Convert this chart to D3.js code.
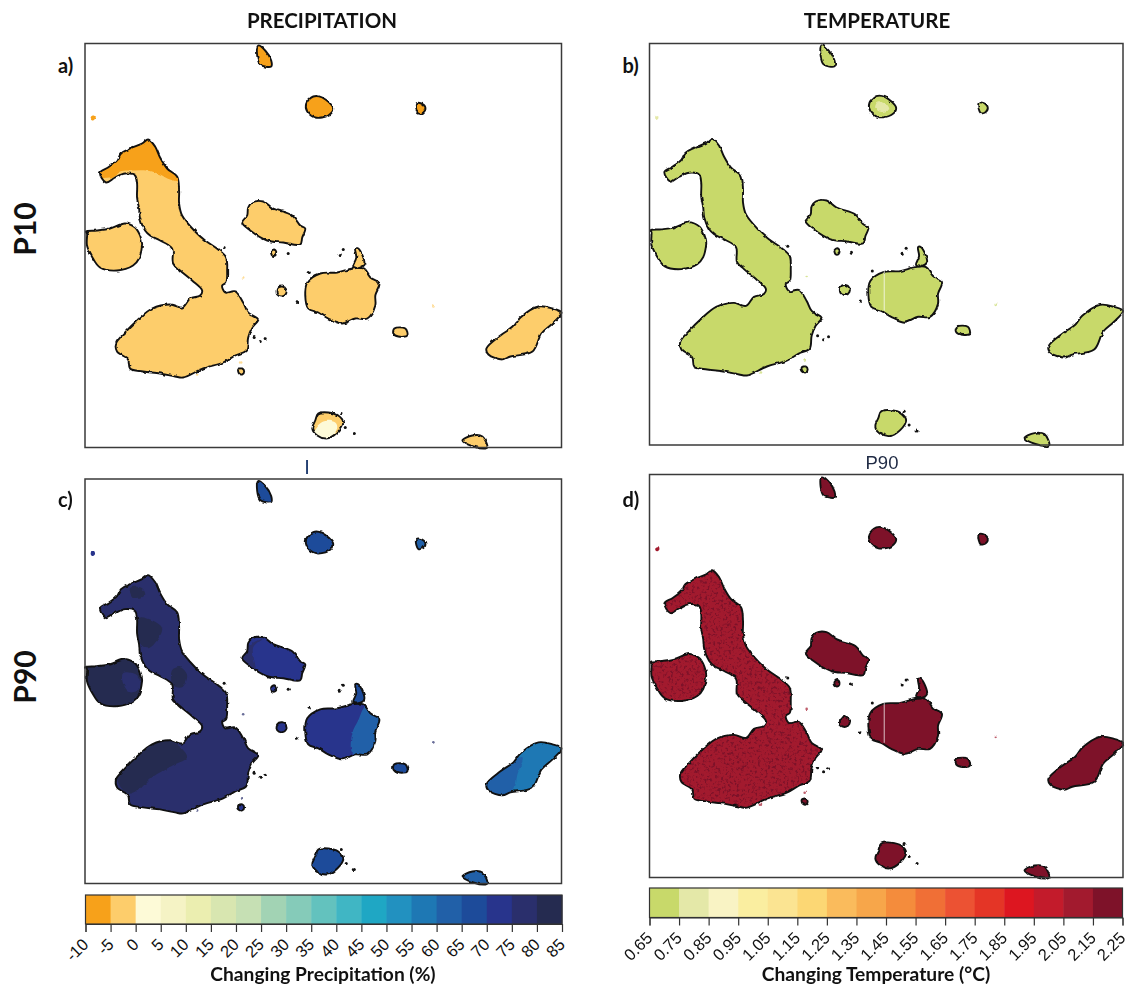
<!DOCTYPE html>
<html>
<head>
<meta charset="utf-8">
<script src="https://cdn.jsdelivr.net/npm/d3@7"></script>
<style>
  html, body { margin: 0; background: #fff; }
  svg { display: block; }
  text { fill: #111; }
</style>
</head>
<body>
<div id="chart"></div>
<script>
// island outlines, in map units (0-476 across, 0-404 down)
var islandNames = ["Isabela", "Fernandina", "Santiago", "Darwin", "Pinta", "Genovesa", "Wolf", "SantaCruz", "Baltra",
    "Pinzon", "Rabida", "Tortuga", "Floreana", "SantaFe", "SanCristobal", "Espanola"];

var isabela = [[63,96],[70,103],[75,114],[82,125],[92,133],[94,147],[94,160],[97,172],[110,188],[120,197],[133,206],
    [141,214],[142,227],[141,239],[137,242],[140,249],[150,248],[158,259],[163,269],[173,276],[167,284],[163,294],[161,307],
    [150,312],[138,319],[118,325],[98,334],[90,333],[75,330],[58,328],[45,325],[43,316],[32,308],[31,300],[40,289],[52,277],
    [67,265],[85,261],[97,264],[105,255],[115,252],[117,247],[107,237],[95,227],[88,220],[87,205],[75,197],[65,192],[60,187],
    [55,175],[54,165],[52,154],[52,140],[50,132],[40,130],[30,134],[21,139],[15,129],[23,124],[32,117],[36,110],[45,105],[57,100]];
var fernandina = [[1,188],[12,187],[25,185],[40,180],[50,184],[55,192],[57,200],[57,202],[54,215],[48,222],[32,227],[15,224],[8,215],[2,202],[2,190]];
var santiago = [[167,159],[178,158],[188,165],[207,172],[215,182],[220,185],[217,194],[215,201],[198,199],[182,197],[165,187],[157,179],[162,172],[163,164]];
var darwin = [[173,2],[180,7],[186,17],[186,23],[175,21],[172,12]];
var pinta = [[228,53],[237,54],[248,65],[243,72],[230,74],[222,68],[221,60]];
var genovesa = [[331,60],[336,60],[340,64],[338,69],[333,70],[331,66]];
var wolf = [[6,73],[9,72],[10,75],[8,77],[6,76]];
var santaCruz = [[222,239],[235,230],[252,229],[267,225],[278,225],[285,234],[294,240],[290,252],[290,262],[282,275],[270,275],[257,280],[243,275],[233,269],[223,265],[220,252]];
var baltra = [[270,205],[273,205],[279,220],[273,224],[268,223],[271,214]];
var pinzon = [[192,245],[197,243],[201,246],[201,250],[197,253],[192,251]];
var rabida = [[186,208],[189,206],[191,209],[190,212],[187,212]];
var tortuga = [[153,326],[157,325],[159,328],[157,331],[154,330]];
var floreana = [[233,370],[243,369],[253,372],[258,379],[252,389],[241,395],[232,392],[227,385],[230,377]];
var santaFe = [[309,285],[320,285],[322,292],[313,293],[308,290]];
var sanCristobal = [[401,305],[415,292],[428,283],[435,274],[453,263],[467,265],[476,269],[467,280],[456,290],[447,308],[425,313],[417,316],[403,311]];
var espanola = [[377,397],[387,392],[397,393],[402,404],[400,405],[388,403]];

var islandOutlines = [isabela, fernandina, santiago, darwin, pinta, genovesa, wolf, santaCruz, baltra,
    pinzon, rabida, tortuga, floreana, santaFe, sanCristobal, espanola];

// one value per island, same order as islandNames
var precipP10 = [-3, -3, -3, -7, -7, -7, -7, -3, -3, -3, -3, -3, -3, -3, -3, -3];
var tempP10 = [0.7, 0.7, 0.7, 0.7, 0.7, 0.7, 0.8, 0.7, 0.7, 0.7, 0.7, 0.7, 0.7, 0.7, 0.7, 0.7];
var precipP90 = [77, 82, 72, 67, 67, 62, 72, 72, 67, 72, 72, 72, 67, 67, 57, 62];
var tempP90 = [2.1, 2.1, 2.2, 2.2, 2.2, 2.2, 2.1, 2.2, 2.2, 2.2, 2.2, 2.2, 2.2, 2.2, 2.2, 2.2];

// patches inside an island: island, value, outline
var precipP10Zones = [
    ["Isabela", -7, [[0,90],[100,90],[100,137],[85,136],[75,131],[62,127],[50,127],[35,128],[30,133],[15,135],[0,140]]],
    ["Floreana", 2, [[238,378],[250,379],[252,384],[246,393],[236,394],[229,388]]]
];
var tempP10Zones = [
    ["Pinta", 0.8, [[229,59],[236,59],[241,66],[233,69],[227,65]]]
];
var precipP90Zones = [
    ["Isabela", 82, [[53,139],[67,141],[77,149],[72,161],[63,169],[55,164]]],
    ["Isabela", 82, [[87,191],[95,188],[102,196],[97,208],[88,206]]],
    ["Isabela", 82, [[45,109],[57,109],[60,116],[48,118]]],
    ["Isabela", 82, [[32,298],[45,281],[67,263],[88,263],[102,278],[88,286],[67,298],[53,311],[42,314]]],
    ["Fernandina", 77, [[38,194],[52,196],[55,209],[45,213],[38,204]]],
    ["Santiago", 77, [[158,171],[178,159],[168,168],[170,191],[160,183]]],
    ["SantaCruz", 62, [[280,228],[294,238],[292,261],[282,274],[267,273],[267,254],[273,241]]],
    ["SanCristobal", 62, [[395,290],[430,280],[437,278],[432,295],[427,312],[395,325]]]
];
var tempP90Zones = [];

// rocks too small to have a colour of their own
var darkRocks = [[139,204],[203,210],[254,211],[258,206],[224,229],[212,259],[169,294],[175,298],[180,295],[256,370],[261,384],[269,390]];
var paleRocks = [[156,319],[158,235],[112,331],[348,263]];

// white seam running through Santa Cruz in the temperature maps
var seam = [[236,229],[236,269]];

var precipTicks = [-10, -5, 0, 5, 10, 15, 20, 25, 30, 35, 40, 45, 50, 55, 60, 65, 70, 75, 80, 85];
var precipColors = ["#f7a11a", "#fdcd6b", "#fdfad7", "#f5f3c5", "#ebeeb0", "#d8e6b0", "#c6e0b4", "#a2d3b4", "#85cbb9", "#63c2be",
    "#40b6c4", "#1fa7c4", "#2291c0", "#1e78b4", "#2160a8", "#1d4b9a", "#28348c", "#2a2f6c", "#252b50"];
var tempTicks = [0.65, 0.75, 0.85, 0.95, 1.05, 1.15, 1.25, 1.35, 1.45, 1.55, 1.65, 1.75, 1.85, 1.95, 2.05, 2.15, 2.25];
var tempColors = ["#c8d96a", "#e4e8a8", "#f9f3c4", "#faeea0", "#fbe492", "#fcd774", "#fabb5c", "#f7a64a", "#f48c3c", "#f06f36",
    "#ec5233", "#e43526", "#dd1620", "#c31b2b", "#a21a2e", "#7e1229"];

var width = 1133,
    height = 988;

var precipColor = d3.scaleThreshold().domain(precipTicks.slice(1, -1)).range(precipColors);
var tempColor = d3.scaleThreshold().domain(tempTicks.slice(1, -1)).range(tempColors);

var svg = d3.select("#chart")
    .append("svg")
    .attr("width", width)
    .attr("height", height);

var defs = svg.append("defs");

// raster-looking coastline
var rough = defs.append("filter").attr("id", "rough")
    .attr("color-interpolation-filters", "sRGB")
    .attr("x", "-5%").attr("y", "-5%").attr("width", "110%").attr("height", "110%");
rough.append("feTurbulence").attr("type", "fractalNoise").attr("baseFrequency", 0.16)
    .attr("numOctaves", 2).attr("seed", 4).attr("result", "n");
rough.append("feDisplacementMap").attr("in", "SourceGraphic").attr("in2", "n")
    .attr("scale", 3).attr("xChannelSelector", "R").attr("yChannelSelector", "G").attr("result", "d");
rough.append("feGaussianBlur").attr("in", "d").attr("stdDeviation", 0.45);

// mottled grid cells of the P90 temperature map
var speckle = defs.append("filter").attr("id", "speckle")
    .attr("color-interpolation-filters", "sRGB")
    .attr("x", "0").attr("y", "0").attr("width", "100%").attr("height", "100%");
speckle.append("feTurbulence").attr("type", "fractalNoise").attr("baseFrequency", 0.38)
    .attr("numOctaves", 2).attr("seed", 9);
speckle.append("feColorMatrix").attr("values", "0 0 0 0 0.49  0 0 0 0 0.07  0 0 0 0 0.16  0 0 0 5 -2.6").attr("result", "s");
speckle.append("feComposite").attr("in", "s").attr("in2", "SourceAlpha").attr("operator", "in").attr("result", "c");
var merge = speckle.append("feMerge");
merge.append("feMergeNode").attr("in", "SourceGraphic");
merge.append("feMergeNode").attr("in", "c");

var panels = [
    {id: "a", left: 85, right: 561.5, top: 43.5, bottom: 447.5, values: precipP10, zones: precipP10Zones, color: precipColor, labelY: 73},
    {id: "b", left: 649.5, right: 1123, top: 43.5, bottom: 445, values: tempP10, zones: tempP10Zones, color: tempColor, labelY: 73, seam: true},
    {id: "c", left: 85, right: 561.5, top: 479, bottom: 883.5, values: precipP90, zones: precipP90Zones, color: precipColor, labelY: 507},
    {id: "d", left: 649.5, right: 1123, top: 474.5, bottom: 877.5, values: tempP90, zones: tempP90Zones, color: tempColor, labelY: 507, seam: true,
        speckled: ["Isabela", "Fernandina"]}
];

panels.forEach(drawPanel);

function drawPanel(p) {
    var x = d3.scaleLinear().domain([0, 476]).range([p.left, p.right]);
    var y = d3.scaleLinear().domain([0, 404]).range([p.top, p.bottom]);
    var line = d3.line()
        .x(function(d) { return x(d[0]); })
        .y(function(d) { return y(d[1]); })
        .curve(d3.curveCatmullRomClosed.alpha(0.5));

    svg.append("rect")
        .attr("x", p.left).attr("y", p.top)
        .attr("width", p.right - p.left).attr("height", p.bottom - p.top)
        .attr("fill", "#fff");

    var g = svg.append("g").attr("filter", "url(#rough)");

    islandNames.forEach(function(name, i) {
        var clipId = "clip-" + p.id + "-" + name;
        defs.append("clipPath").attr("id", clipId)
            .append("path").attr("d", line(islandOutlines[i]));

        var isl = g.append("g");
        var fill = isl.append("path")
            .attr("d", line(islandOutlines[i]))
            .attr("fill", p.color(p.values[i]));
        if (p.speckled && p.speckled.indexOf(name) >= 0) fill.attr("filter", "url(#speckle)");

        p.zones.filter(function(z) { return z[0] == name; }).forEach(function(z) {
            isl.append("path")
                .attr("d", line(z[2]))
                .attr("clip-path", "url(#" + clipId + ")")
                .attr("fill", p.color(z[1]));
        });

        if (name != "Wolf") {
            isl.append("path")
                .attr("d", line(islandOutlines[i]))
                .attr("fill", "none")
                .attr("stroke", "#111")
                .attr("stroke-width", 1.9)
                .attr("stroke-linejoin", "round");
        }
    });

    g.selectAll(".dark").data(darkRocks).enter().append("circle")
        .attr("class", "dark")
        .attr("cx", function(d) { return x(d[0]); })
        .attr("cy", function(d) { return y(d[1]); })
        .attr("r", 1.5).attr("fill", "#111");

    g.selectAll(".pale").data(paleRocks).enter().append("circle")
        .attr("class", "pale")
        .attr("cx", function(d) { return x(d[0]); })
        .attr("cy", function(d) { return y(d[1]); })
        .attr("r", 1.3).attr("fill", p.color(p.values[0])).attr("opacity", 0.7);

    if (p.seam) {
        svg.append("line")
            .attr("x1", x(seam[0][0])).attr("y1", y(seam[0][1]))
            .attr("x2", x(seam[1][0])).attr("y2", y(seam[1][1]))
            .attr("stroke", "#fff").attr("stroke-width", 1.2).attr("opacity", 0.6);
    }

    svg.append("rect")
        .attr("x", p.left).attr("y", p.top)
        .attr("width", p.right - p.left).attr("height", p.bottom - p.top)
        .attr("fill", "none").attr("stroke", "#3a3a3a").attr("stroke-width", 1.5);

    svg.append("text")
        .attr("x", p.left - 27).attr("y", p.labelY)
        .attr("font-family", "Lato").attr("font-weight", 700).attr("font-size", 20)
        .text(p.id + ")");
}

drawBar(85.5, 562, 895, 924, precipTicks, precipColor, String, "Changing Precipitation (%)", 323);
drawBar(649.5, 1122.5, 888, 917.5, tempTicks, tempColor, d3.format(".2f"), "Changing Temperature (\u00b0C)", 876);

function drawBar(x0, x1, top, bottom, ticks, color, fmt, title, titleX) {
    var x = d3.scaleLinear().domain([ticks[0], ticks[ticks.length - 1]]).range([x0, x1]);

    svg.append("g").selectAll("rect")
        .data(ticks.slice(0, -1))
        .enter().append("rect")
        .attr("x", function(d) { return x(d); })
        .attr("y", top)
        .attr("width", function(d, i) { return x(ticks[i + 1]) - x(d) + 0.5; })
        .attr("height", bottom - top)
        .attr("fill", function(d) { return color(d); });

    svg.append("rect")
        .attr("x", x0).attr("y", top)
        .attr("width", x1 - x0).attr("height", bottom - top)
        .attr("fill", "none").attr("stroke", "#333").attr("stroke-width", 1.2);

    var axis = svg.append("g")
        .attr("transform", "translate(0," + bottom + ")")
        .call(d3.axisBottom(x).tickValues(ticks).tickFormat(fmt).tickSize(8));
    axis.select(".domain").attr("stroke", "#333");
    axis.selectAll(".tick line").attr("stroke", "#333").attr("stroke-width", 1.2);
    axis.selectAll(".tick text")
        .attr("font-family", "Liberation Sans")
        .attr("font-size", 16.5)
        .attr("fill", "#222")
        .attr("text-anchor", "end")
        .attr("dy", null)
        .attr("x", 5)
        .attr("y", 0)
        .attr("transform", "translate(0,25) rotate(-45)");

    svg.append("text")
        .attr("x", titleX).attr("y", 981)
        .attr("text-anchor", "middle")
        .attr("font-family", "Lato").attr("font-weight", 700).attr("font-size", 19.2)
        .text(title);
}

// column and row headings
svg.append("text").attr("x", 322).attr("y", 28).attr("text-anchor", "middle")
    .attr("font-family", "Lato").attr("font-weight", 700).attr("font-size", 20.5).text("PRECIPITATION");
svg.append("text").attr("x", 877).attr("y", 28).attr("text-anchor", "middle")
    .attr("font-family", "Lato").attr("font-weight", 700).attr("font-size", 20.5).text("TEMPERATURE");

[["P10", 229], ["P90", 677]].forEach(function(d) {
    svg.append("text")
        .attr("transform", "translate(36," + d[1] + ") rotate(-90)")
        .attr("text-anchor", "middle")
        .attr("font-family", "Lato").attr("font-weight", 700).attr("font-size", 30)
        .text(d[0]);
});

svg.append("text").attr("x", 307).attr("y", 474).attr("text-anchor", "middle")
    .attr("font-family", "Liberation Sans").attr("font-size", 20).style("fill", "#1d3a6e").text("I");
svg.append("text").attr("x", 882).attr("y", 469).attr("text-anchor", "middle")
    .attr("font-family", "Liberation Sans").attr("font-size", 18.5).style("fill", "#1f2a44").text("P90");
</script>
</body>
</html>
